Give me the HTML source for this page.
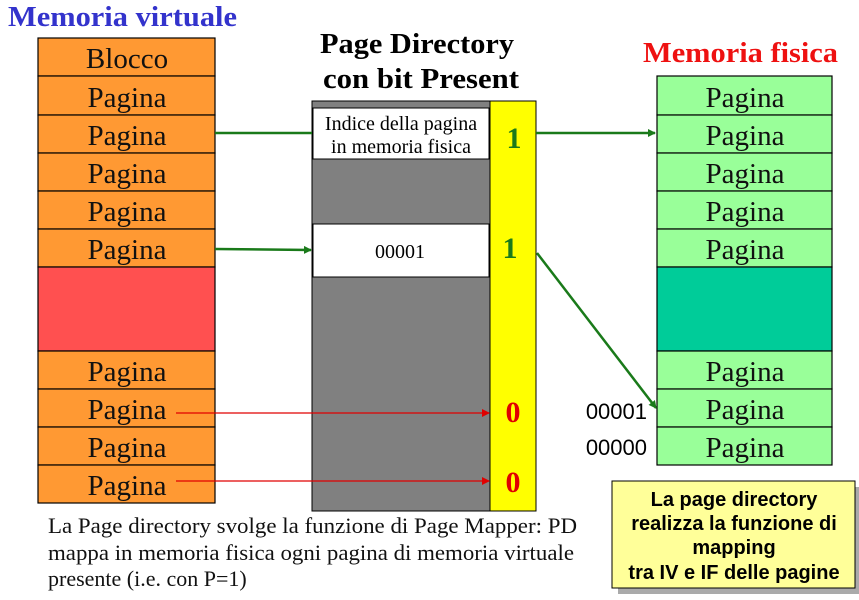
<!DOCTYPE html>
<html><head><meta charset="utf-8"><style>body{margin:0;background:#fff}svg{display:block}</style></head><body>
<svg width="859" height="600" viewBox="0 0 859 600" xmlns="http://www.w3.org/2000/svg" font-family="Liberation Serif, serif">
<defs>
<marker id="ag" markerWidth="8" markerHeight="8" refX="7" refY="4" orient="auto" markerUnits="userSpaceOnUse"><path d="M0,0 L8,4 L0,8 z" fill="#1a7a1a"/></marker>
<marker id="ar" markerWidth="8" markerHeight="8" refX="7" refY="4" orient="auto" markerUnits="userSpaceOnUse"><path d="M0,0 L8,4 L0,8 z" fill="#e00000"/></marker>
</defs>
<text x="8" y="26" font-size="28" font-weight="bold" fill="#3333cc" textLength="229" lengthAdjust="spacingAndGlyphs">Memoria virtuale</text>
<text x="320" y="53" font-size="29" font-weight="bold" textLength="194" lengthAdjust="spacingAndGlyphs">Page Directory</text>
<text x="323" y="88" font-size="29" font-weight="bold" textLength="196" lengthAdjust="spacingAndGlyphs">con bit Present</text>
<text x="643" y="62" font-size="29" font-weight="bold" fill="#ee1111" textLength="195" lengthAdjust="spacingAndGlyphs">Memoria fisica</text>
<g stroke="#000" stroke-width="1.2">
<rect x="38" y="38" width="177" height="38" fill="#ff9933"/>
<rect x="38" y="76" width="177" height="39" fill="#ff9933"/>
<rect x="38" y="115" width="177" height="38" fill="#ff9933"/>
<rect x="38" y="153" width="177" height="38" fill="#ff9933"/>
<rect x="38" y="191" width="177" height="38" fill="#ff9933"/>
<rect x="38" y="229" width="177" height="38" fill="#ff9933"/>
<rect x="38" y="267" width="177" height="84" fill="#ff5050"/>
<rect x="38" y="351" width="177" height="38" fill="#ff9933"/>
<rect x="38" y="389" width="177" height="38" fill="#ff9933"/>
<rect x="38" y="427" width="177" height="38" fill="#ff9933"/>
<rect x="38" y="465" width="177" height="38" fill="#ff9933"/>
</g>
<g font-size="29" text-anchor="middle" fill="#111">
<text x="127" y="68">Blocco</text>
<text x="127" y="107">Pagina</text>
<text x="127" y="145">Pagina</text>
<text x="127" y="183">Pagina</text>
<text x="127" y="221">Pagina</text>
<text x="127" y="259">Pagina</text>
<text x="127" y="381">Pagina</text>
<text x="127" y="419">Pagina</text>
<text x="127" y="457">Pagina</text>
<text x="127" y="495">Pagina</text>
</g>
<rect x="312" y="101" width="178" height="410" fill="#808080" stroke="#000"/>
<rect x="490" y="101" width="46" height="410" fill="#ffff00" stroke="#000"/>
<rect x="313" y="108" width="176" height="51" fill="#fff" stroke="#000"/>
<rect x="313" y="224" width="176" height="53" fill="#fff" stroke="#000"/>
<text x="401" y="130" font-size="20" text-anchor="middle">Indice della pagina</text>
<text x="401" y="153" font-size="20" text-anchor="middle">in memoria fisica</text>
<text x="400" y="258" font-size="20" text-anchor="middle">00001</text>
<g font-size="30" font-weight="bold" text-anchor="middle">
<text x="514" y="148" fill="#1a7a1a">1</text>
<text x="510" y="258" fill="#1a7a1a">1</text>
<text x="513" y="422" fill="#e00000">0</text>
<text x="513" y="492" fill="#e00000">0</text>
</g>
<g stroke="#000" stroke-width="1.2">
<rect x="657" y="76" width="175" height="39" fill="#99ff99"/>
<rect x="657" y="115" width="175" height="38" fill="#99ff99"/>
<rect x="657" y="153" width="175" height="38" fill="#99ff99"/>
<rect x="657" y="191" width="175" height="38" fill="#99ff99"/>
<rect x="657" y="229" width="175" height="38" fill="#99ff99"/>
<rect x="657" y="267" width="175" height="84" fill="#00cc99"/>
<rect x="657" y="351" width="175" height="38" fill="#99ff99"/>
<rect x="657" y="389" width="175" height="38" fill="#99ff99"/>
<rect x="657" y="427" width="175" height="38" fill="#99ff99"/>
</g>
<g font-size="29" text-anchor="middle" fill="#111">
<text x="745" y="107">Pagina</text>
<text x="745" y="145">Pagina</text>
<text x="745" y="183">Pagina</text>
<text x="745" y="221">Pagina</text>
<text x="745" y="259">Pagina</text>
<text x="745" y="381">Pagina</text>
<text x="745" y="419">Pagina</text>
<text x="745" y="457">Pagina</text>
</g>
<g font-family="Liberation Sans, sans-serif" font-size="22" text-anchor="end">
<text x="647" y="419">00001</text>
<text x="647" y="455">00000</text>
</g>
<g stroke="#1a7a1a" stroke-width="2.5" fill="none">
<line x1="215" y1="133" x2="312" y2="133"/>
<line x1="536" y1="133" x2="655" y2="133" marker-end="url(#ag)"/>
<line x1="215" y1="249" x2="311" y2="250" marker-end="url(#ag)"/>
<line x1="537" y1="253" x2="656" y2="408" marker-end="url(#ag)"/>
</g>
<g stroke="#e00000" stroke-width="1.2">
<line x1="176" y1="413" x2="489" y2="413" marker-end="url(#ar)"/>
<line x1="176" y1="481" x2="489" y2="481" marker-end="url(#ar)"/>
</g>
<g font-size="22" fill="#111">
<text x="48" y="533" textLength="529" lengthAdjust="spacingAndGlyphs">La Page directory svolge la funzione di Page Mapper: PD</text>
<text x="48" y="560" textLength="526" lengthAdjust="spacingAndGlyphs">mappa in memoria fisica ogni pagina di memoria virtuale</text>
<text x="48" y="586">presente (i.e. con P=1)</text>
</g>
<rect x="618" y="487" width="243" height="107" fill="#aaa"/>
<rect x="612" y="481" width="243" height="107" fill="#ffff99" stroke="#000"/>
<g font-family="Liberation Sans, sans-serif" font-size="20" font-weight="bold" text-anchor="middle">
<text x="734" y="506">La page directory</text>
<text x="734" y="530">realizza la funzione di</text>
<text x="734" y="554">mapping</text>
<text x="734" y="579">tra IV e IF delle pagine</text>
</g>
</svg>
</body></html>
